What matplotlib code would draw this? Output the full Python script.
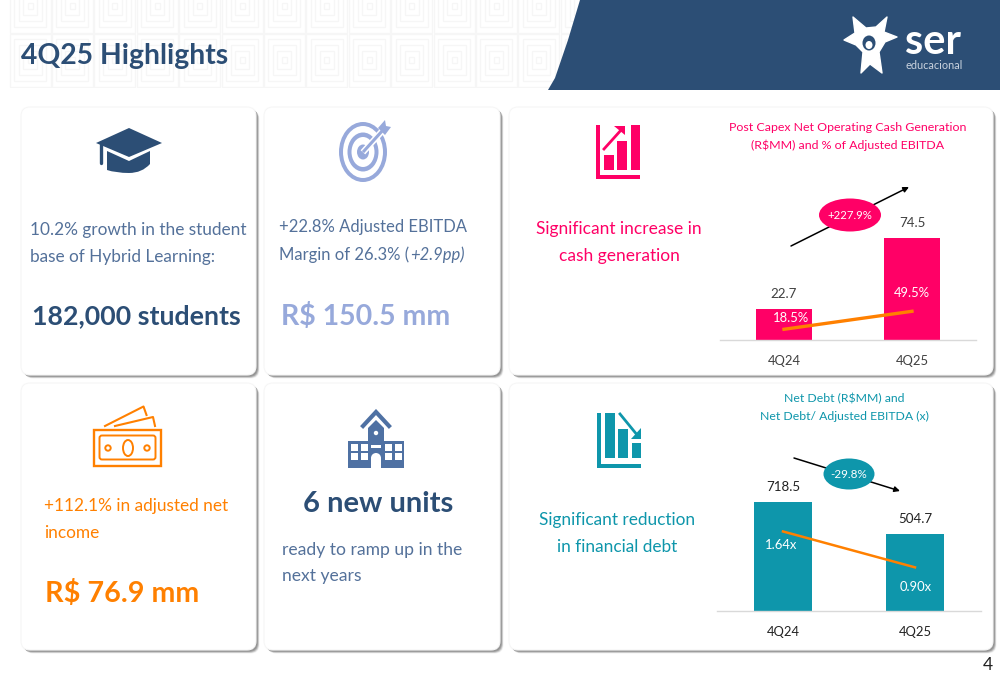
import matplotlib
matplotlib.use("Agg")
import matplotlib.pyplot as plt
from matplotlib.patches import Rectangle, FancyBboxPatch, Polygon, Ellipse, Circle, PathPatch
from matplotlib.path import Path

plt.rcParams['font.family'] = ['Lato', 'DejaVu Sans']

# ---- data ----
quarters = ["4Q24", "4Q25"]
cash_values = [22.7, 74.5]
cash_pct = [18.5, 49.5]
cash_pct_labels = ["18.5%", "49.5%"]
debt_values = [718.5, 504.7]
debt_ratio = [1.64, 0.90]
debt_ratio_labels = ["1.64x", "0.90x"]

NAVY = "#2C4E75"
SLATE = "#54719A"
PERI = "#97A9DB"
PINK = "#FF0066"
TEAL = "#0E96AB"
ORANGE = "#FF8000"
BLUE = "#4F71A3"
DARK = "#404040"

fig = plt.figure(figsize=(10, 6.85), dpi=100, facecolor="white")
ax = fig.add_axes([0, 0, 1, 1], zorder=1)
ax.set_xlim(0, 1000)
ax.set_ylim(685, 0)
ax.axis("off")

# background pattern in the header
clip = Rectangle((0, 0), 600, 88, transform=ax.transData)
for row in range(2):
    for col in range(15):
        cx, cy = 30 + col * 42.4, 6 + row * 54
        for hw, hh in [(2.5, 3), (7, 9), (11.5, 15), (16, 21), (20.5, 26.5)]:
            r = Rectangle((cx - hw, cy - hh), 2 * hw, 2 * hh, fill=False,
                          ec="#F6F6F6", lw=0.9, zorder=1)
            ax.add_patch(r)
            r.set_clip_path(clip)

# header band
verts = [(580, 0), (1000, 0), (1000, 90), (548, 90), (555, 78), (568, 40), (580, 0)]
ax.add_patch(Polygon(verts, closed=True, fc=NAVY, ec="none", zorder=2))
ax.text(21, 56, "4Q25 Highlights", fontsize=20.3, fontweight="bold", color=NAVY, va="center", ha="left", zorder=3)

# logo
star = [(853, 17), (866, 28), (876, 27), (887, 17), (884, 32), (897, 37), (885, 42), (879, 52),
        (882, 73), (870, 64), (861, 73), (863, 52), (856, 45), (844, 40), (855, 33)]
ax.add_patch(Polygon(star, closed=True, fc="white", ec="white", lw=1, joinstyle="round", zorder=3))
ax.add_patch(Ellipse((869, 43), 13, 15, fc=NAVY, ec="none", zorder=4))
ax.add_patch(Ellipse((869, 45), 7, 8, fc="white", ec="none", zorder=5))
ax.text(905, 54, "ser", fontsize=30, fontweight="bold", color="white", va="baseline", ha="left", zorder=3)
ax.text(905, 69, "educacional", fontsize=7.9, color="#C9D2DE", va="baseline", ha="left", zorder=3)


def card(x0, y0, x1, y1):
    for off, alpha in [(3.5, .10), (3, .18), (2.5, .28), (2, .35), (1.5, .35)]:
        ax.add_patch(FancyBboxPatch((x0 + off, y0 + off), x1 - x0, y1 - y0,
                                    boxstyle="round,pad=0,rounding_size=9",
                                    fc="#777777", ec="none", alpha=alpha, zorder=4))
    ax.add_patch(FancyBboxPatch((x0, y0), x1 - x0, y1 - y0, boxstyle="round,pad=0,rounding_size=9",
                                fc="white", ec="#F6F6F6", lw=0.8, zorder=5))


card(21, 107, 256, 375)
card(264, 107, 500, 375)
card(509, 107, 993, 375)
card(21, 383, 256, 650)
card(264, 383, 500, 650)
card(509, 383, 993, 650)

Z = 6


def txt(x, y, s, size, color, ha="left", weight="normal", style="normal"):
    return ax.text(x, y + 0.5, s, fontsize=size, color=color, ha=ha, va="center", fontweight=weight,
                   zorder=Z + 1, fontstyle=style)


# card text
txt(30, 229, "10.2% growth in the student", 12.4, SLATE)
txt(30, 256, "base of Hybrid Learning:", 12.4, SLATE)
txt(32, 316, "182,000 students", 19.3, NAVY, weight="bold")

txt(279, 226, "+22.8% Adjusted EBITDA", 12.0, SLATE)
m = txt(279, 254, "Margin of 26.3% (", 12.0, SLATE)
mx = m.get_window_extent(fig.canvas.get_renderer()).x1
txt(mx + 1, 254, "+2.9pp)", 12.0, SLATE, style="italic")
txt(281, 316, "R$ 150.5 mm", 20.5, PERI, weight="bold")

txt(619, 228, "Significant increase in", 12.5, PINK, ha="center")
txt(619, 255, "cash generation", 12.5, PINK, ha="center")
txt(848, 127, "Post Capex Net Operating Cash Generation", 8.9, PINK, ha="center")
txt(848, 145, "(R$MM) and % of Adjusted EBITDA", 8.9, PINK, ha="center")

txt(44, 505, "+112.1% in adjusted net", 12.4, ORANGE)
txt(44, 533, "income", 12.4, ORANGE)
txt(45, 593, "R$ 76.9 mm", 20.7, ORANGE, weight="bold")

txt(378, 504, "6 new units", 21, NAVY, ha="center", weight="bold")
txt(282, 549, "ready to ramp up in the", 12.6, SLATE)
txt(282, 576, "next years", 12.6, SLATE)

txt(617, 519, "Significant reduction", 12.4, TEAL, ha="center")
txt(617, 546, "in financial debt", 12.4, TEAL, ha="center")
txt(844, 398, "Net Debt (R$MM) and", 8.8, TEAL, ha="center")
txt(844, 416, "Net Debt/ Adjusted EBITDA (x)", 8.8, TEAL, ha="center")

txt(988, 665, "4", 12.5, "#222222", ha="center")

# mortarboard icon
ax.add_patch(Polygon([(96, 143), (129, 128), (162, 143), (129, 157)], fc=NAVY, ec="none", zorder=Z))
cap = Path([(107, 151), (129, 161), (150, 151), (150, 164), (142, 173), (129, 173), (116, 173), (107, 170), (107, 164), (107, 151)],
           [Path.MOVETO, Path.LINETO, Path.LINETO, Path.LINETO, Path.CURVE3, Path.CURVE3, Path.CURVE3, Path.CURVE3, Path.LINETO, Path.CLOSEPOLY])
ax.add_patch(PathPatch(cap, fc=NAVY, ec="none", zorder=Z))
ax.plot([100.5, 100.5], [144, 163], color=NAVY, lw=2.4, zorder=Z, solid_capstyle="round")

# target icon
for w, h, fc in [(48, 60, PERI), (40, 52, "white"), (31, 39, PERI), (23, 30, "white"), (12, 15, PERI)]:
    ax.add_patch(Ellipse((363, 152), w, h, fc=fc, ec="none", zorder=Z))
ax.plot([365, 384], [150, 129], color="white", lw=4.5, zorder=Z)
ax.plot([364, 383], [151, 130], color=PERI, lw=2.2, zorder=Z)
ax.add_patch(Polygon([(378, 128), (385, 120), (386, 126), (391, 127), (385, 135)], fc=PERI, ec="none", zorder=Z))

# chart-up icon
for x, y, w, h in [(596, 125, 4, 54), (596, 175, 44, 4), (604, 155, 9.5, 15), (617, 141, 9.5, 29), (630.5, 125, 9.5, 45)]:
    ax.add_patch(Rectangle((x, y), w, h, fc=PINK, ec="none", zorder=Z))
ax.plot([604, 622], [149, 129], color=PINK, lw=2, zorder=Z)
ax.add_patch(Polygon([(614, 125.5), (624.5, 125.5), (624.5, 135)], fc=PINK, ec="none", zorder=Z))

# chart-down icon
for x, y, w, h in [(597, 413, 4, 55), (597, 464, 44, 4), (605, 413, 9.5, 45), (618, 429, 9.5, 29), (631.5, 443, 9.5, 15)]:
    ax.add_patch(Rectangle((x, y), w, h, fc=TEAL, ec="none", zorder=Z))
ax.plot([620, 638], [414, 436], color="white", lw=4, zorder=Z)
ax.plot([620, 638], [414, 436], color=TEAL, lw=2, zorder=Z)
ax.add_patch(Polygon([(641, 428), (641, 439), (631, 439)], fc=TEAL, ec="none", zorder=Z))

# money icon
ax.add_patch(Rectangle((94, 429.5), 67, 36, fill=False, ec=ORANGE, lw=1.7, zorder=Z))
ax.add_patch(FancyBboxPatch((99.5, 435.5), 56, 24, boxstyle="round,pad=0,rounding_size=2.5", fill=False, ec=ORANGE, lw=1.4, zorder=Z))
ax.add_patch(Ellipse((128, 448), 10, 16, fill=False, ec=ORANGE, lw=1.4, zorder=Z))
ax.add_patch(Circle((108, 448), 2.7, fill=False, ec=ORANGE, lw=1.4, zorder=Z))
ax.add_patch(Circle((147, 448), 2.7, fill=False, ec=ORANGE, lw=1.4, zorder=Z))
ax.plot([105, 143.5, 146.5], [426, 406.5, 415], color=ORANGE, lw=1.5, zorder=Z)
ax.plot([115, 153, 155], [426, 417, 426], color=ORANGE, lw=1.5, zorder=Z)

# school icon
ax.add_patch(Rectangle((348, 441), 56, 27, fc=BLUE, ec="none", zorder=Z))
ax.add_patch(Polygon([(368, 441), (368, 428), (376, 420), (384, 428), (384, 441)], fc=BLUE, ec="none", zorder=Z))
ax.plot([363, 376, 389], [426, 412, 426], color=BLUE, lw=3, zorder=Z, solid_joinstyle="miter")
ax.add_patch(Circle((376, 433), 2.2, fc="white", ec="none", zorder=Z))
for x in [351, 361, 385, 395]:
    for y in [444, 453]:
        ax.add_patch(Rectangle((x, y), 6.5, 7, fc="white", ec="none", zorder=Z))
ax.add_patch(Rectangle((371, 445), 10, 3, fc="white", ec="none", zorder=Z))
ax.add_patch(Rectangle((371, 458), 10, 10, fc="white", ec="none", zorder=Z))
ax.add_patch(Ellipse((376, 458), 10, 10, fc="white", ec="none", zorder=Z))

# change arrows and badges
ax.annotate("", xy=(909, 187), xytext=(791, 246), zorder=Z,
            arrowprops=dict(arrowstyle="-|>", color="black", lw=1.1, shrinkA=0, shrinkB=0, mutation_scale=8))
ax.add_patch(Ellipse((850, 215), 62, 33, fc=PINK, ec="none", zorder=Z + 1))
ax.text(850, 215, "+227.9%", fontsize=8.2, color="white", ha="center", va="center", zorder=Z + 2)
ax.annotate("", xy=(900, 491), xytext=(794, 458), zorder=Z,
            arrowprops=dict(arrowstyle="-|>", color="black", lw=1.1, shrinkA=0, shrinkB=0, mutation_scale=8))
ax.add_patch(Ellipse((849, 474), 51, 31, fc=TEAL, ec="none", zorder=Z + 1))
ax.text(849, 474, "-29.8%", fontsize=8.4, color="white", ha="center", va="center", zorder=Z + 2)


def inset(left, right, top, bottom):
    a = fig.add_axes([left / 1000, 1 - bottom / 685, (right - left) / 1000, (bottom - top) / 685], zorder=3)
    a.patch.set_alpha(0)
    return a


def combo(a, values, line, line_labels, bar_color, vmax, lmax, width, text_color, value_gap, line_pos):
    a.bar(range(2), values, width=width, color=bar_color)
    a.set_xlim(-0.5, 1.5)
    a.set_ylim(0, vmax)
    a.set_xticks(range(2), quarters, fontsize=9.4, color=text_color)
    a.tick_params(axis="x", length=0, pad=11)
    a.set_yticks([])
    for s in ["top", "left", "right"]:
        a.spines[s].set_visible(False)
    a.spines["bottom"].set_color("#D9D9D9")
    a.spines["bottom"].set_linewidth(1)
    for i, v in enumerate(values):
        a.annotate(f"{v:.1f}", (i, v), xytext=(0, value_gap), textcoords="offset pixels",
                   ha="center", va="center", fontsize=9.6, color=text_color)
    b = a.twinx()
    b.patch.set_alpha(0)
    b.set_ylim(0, lmax)
    b.set_yticks([])
    for s in b.spines.values():
        s.set_visible(False)
    b.plot(range(2), line, color=ORANGE, lw=line_pos[2])
    for i, lab in enumerate(line_labels):
        b.annotate(lab, (i, line[i]), xytext=line_pos[i], textcoords="offset pixels",
                   ha="center", va="center", fontsize=9.4, color="white")


# cash generation chart: px per unit 1.37 (bars), 0.58 (line)
a1 = inset(720, 976, 180, 340)
combo(a1, cash_values, cash_pct, cash_pct_labels, PINK, 160 / 1.37, 160 / 0.58, 0.4375, DARK, 15, [(7, 11), (0, 18), 2.4])

# net debt chart: px per unit 0.1517 (bars), 48.5 (line)
a2 = inset(717, 981, 440, 611)
combo(a2, debt_values, debt_ratio, debt_ratio_labels, TEAL, 171 / 0.1517, 171 / 48.5, 0.432, "#222222", 15, [(-2, -14), (1, -20), 1.8])

fig.savefig("out.png", dpi=100, facecolor="white")
